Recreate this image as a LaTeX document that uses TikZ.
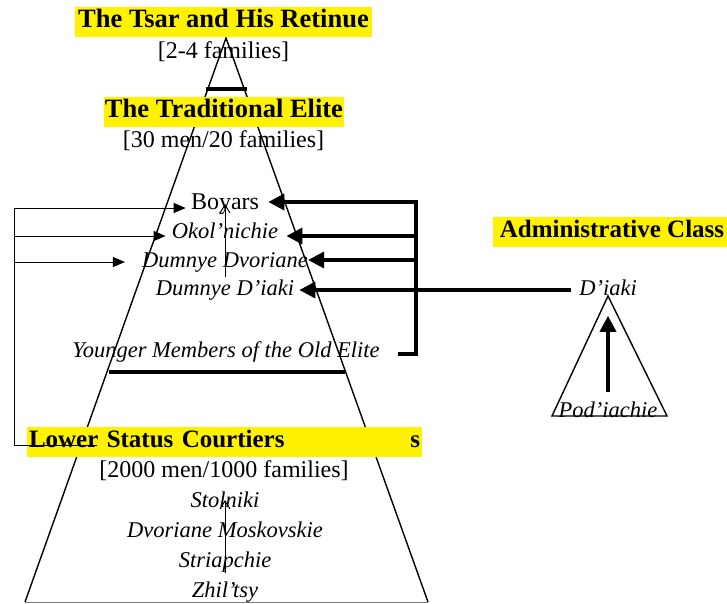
\documentclass[tikz,border=0pt]{standalone}
\usepackage{fontspec}
\setmainfont{Liberation Serif}
\usetikzlibrary{arrows.meta,positioning}
\newcommand{\hfont}{\bfseries\fontsize{25}{28}\selectfont}
\newcommand{\nfont}{\fontsize{24}{27}\selectfont}
\newcommand{\ifont}{\itshape\fontsize{22.5}{26}\selectfont}

\begin{document}
\begin{tikzpicture}[x=1pt,y=-1pt,semithick]
  \tikzstyle{every node}=[inner sep=0pt,text height=16pt,text depth=5pt]
  \tikzstyle{hilite}=[fill=yellow,font=\hfont,text height=20pt,text depth=9pt,inner ysep=0.5pt]
  \tikzstyle{count}=[font=\nfont]
  \tikzstyle{rank}=[font=\ifont]
  \tikzstyle{bar}=[line width=4.5pt]
  \tikzstyle{link}=[line width=1pt,-{Triangle[length=12pt,width=10pt]}]
  \tikzstyle{bigarrow}=[line width=3.5pt,-{Triangle[length=16pt,width=16pt]}]
  \tikzstyle{climb}=[line width=1pt,-{Straight Barb[length=8pt,width=10pt]}]

  \useasboundingbox (0,0) rectangle (727,603);

  % the court pyramid
  \coordinate (top) at (226,38);
  \coordinate (bl)  at (25,602);
  \coordinate (br)  at (428,602);
  \draw[line width=1.4pt] (bl) -- (top) -- (br);
  \draw[gray] (bl) -- (br);
  \draw[bar] (206,89) -- (247,89);
  \draw[bar] (109,372) -- (345,372);

  % the clerks' pyramid
  \coordinate (stop) at (608,296);
  \coordinate (sbl)  at (552,416);
  \coordinate (sbr)  at (667,416);
  \draw[line width=1.4pt] (stop) -- (sbl) -- (sbr) -- cycle;

  \node[hilite,minimum width=297pt,font=\bfseries\fontsize{26.5}{29}\selectfont] (tsar) at (223.5,22) {The Tsar and His Retinue};
  \node[count]                      (tsarfam)  at (223.5,53) {[2-4 families]};
  \node[hilite,minimum width=240pt,font=\bfseries\fontsize{26.5}{29}\selectfont] (elite) at (224,112) {The Traditional Elite};
  \node[count]                      (elitefam) at (223.5,142){[30 men/20 families]};
  \node[count]                      (boyars)   at (225,204)  {Boyars};
  \node[rank]                       (okol)     at (225,233)  {Okol’nichie};
  \node[rank]                       (dvor)     at (225,262)  {Dumnye Dvoriane};
  \node[rank]                       (dumdiaki) at (225,290)  {Dumnye D’iaki};
  \node[rank]                       (younger)  at (226,352)  {Younger Members of the Old Elite};

  \node[hilite,text width=391pt,inner xsep=2pt] (lower) at (224.5,442) {Lower Status Courtiers\hfill s};
  \node[count]                      (lowerfam) at (224,472)  {[2000 men/1000 families]};
  \node[rank]                       (stolniki) at (225,502)  {Stolniki};
  \node[rank]                       (moskov)   at (225,532)  {Dvoriane Moskovskie};
  \node[rank]                       (striap)   at (225,562)  {Striapchie};
  \node[rank]                       (zhiltsy)  at (225,592)  {Zhil’tsy};

  \node[hilite,minimum width=238pt] (admin)     at (612,232) {Administrative Class};
  \node[rank]                       (diaki)     at (608,290) {D’iaki};
  \node[rank]                       (podiachie) at (608,412) {Pod’iachie};

  % left bracket
  \coordinate (l1) at (14,208);
  \coordinate (l2) at (14,236);
  \coordinate (l3) at (14,262);
  \coordinate (l4) at (14,445);
  \coordinate (lstub) at (97,445);
  \draw[line width=1pt] (l1) -- (l4) -- (lstub);
  \draw[link,shorten >=5pt]  (l1) -- (l1 -| boyars.west);
  \draw[link,shorten >=6pt]  (l2) -- (l2 -| okol.west);
  \draw[link,shorten >=17pt] (l3) -- (l3 -| dvor.west);

  % right bracket
  \coordinate (r1) at (416,202);
  \coordinate (r2) at (416,236);
  \coordinate (r3) at (416,260);
  \coordinate (r4) at (416,354);
  \coordinate (r5) at (398,354);
  \draw[bigarrow,shorten >=9pt] (r5) -- (r4) -- (r1) -- (r1 -| boyars.east);
  \draw[bigarrow,shorten >=8pt] (r2) -- (r2 -| okol.east);
  \draw[bigarrow] (r3) -- (r3 -| dvor.east);
  \draw[bigarrow,shorten <=8pt,shorten >=5pt] (diaki.west) -- (diaki.west -| dumdiaki.east);

  % promotion
  \draw[bigarrow,shorten <=9pt,shorten >=15pt] (podiachie.north) -- (diaki.south);
  \draw[climb] ([yshift=-15pt]dvor.center) -- (boyars.center);
  \draw[climb] ([yshift=-11pt]striap.center) -- ([yshift=2pt]stolniki.center);
\end{tikzpicture}
\end{document}
